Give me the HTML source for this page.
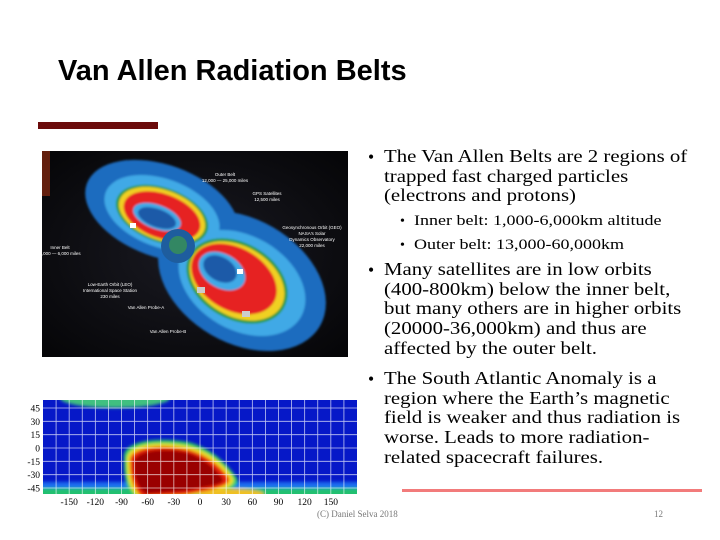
<!DOCTYPE html>
<html><head><meta charset="utf-8"><style>
body{margin:0;width:720px;height:540px;background:#fff;overflow:hidden;position:relative;font-family:"Liberation Serif",serif}
.t{position:absolute;white-space:nowrap;color:#000}
.b{font-size:17.5px;line-height:19.7px;transform:scaleX(1.19);transform-origin:0 0}
.s{font-size:15px;line-height:24px;transform:scaleX(1.2);transform-origin:0 0}
</style></head><body>
<div class="t" style="left:58px;top:55px;font:bold 29px 'Liberation Sans',sans-serif">Van Allen Radiation Belts</div>
<div style="position:absolute;left:38px;top:122px;width:120px;height:7px;background:#6b0b0b"></div>

<svg style="position:absolute;left:42px;top:151px" width="306" height="206" viewBox="0 0 306 206">
<defs><radialGradient id="sp" cx="0.5" cy="0.5" r="0.7"><stop offset="0" stop-color="#1a1a22"/><stop offset="1" stop-color="#050507"/></radialGradient>
<filter id="bl"><feGaussianBlur stdDeviation="1"/></filter></defs>
<rect width="306" height="206" fill="url(#sp)"/>
<rect x="0" y="0" width="8" height="45" fill="#8a2a10" opacity="0.7"/>
<g filter="url(#bl)">
<ellipse cx="120" cy="60" rx="80" ry="46" transform="rotate(20 120 60)" fill="#1c6cbf"/>
<ellipse cx="200" cy="130" rx="90" ry="62" transform="rotate(30 200 130)" fill="#1c6cbf"/>
<ellipse cx="200" cy="132" rx="68" ry="47" transform="rotate(30 200 132)" fill="#3fa9e6"/>
<ellipse cx="120" cy="62" rx="60" ry="34" transform="rotate(20 120 62)" fill="#3fa9e6"/>
<ellipse cx="120" cy="64" rx="48" ry="27" transform="rotate(20 120 64)" fill="#2a9a3a"/>
<ellipse cx="195" cy="130" rx="54" ry="38" transform="rotate(30 195 130)" fill="#2a9a3a"/>
<ellipse cx="120" cy="64" rx="45" ry="25" transform="rotate(20 120 64)" fill="#f0d020"/>
<ellipse cx="195" cy="130" rx="51" ry="35" transform="rotate(30 195 130)" fill="#f0d020"/>
<ellipse cx="120" cy="65" rx="40" ry="22" transform="rotate(20 120 65)" fill="#e62020"/>
<ellipse cx="192" cy="128" rx="46" ry="31" transform="rotate(30 192 128)" fill="#e62020"/>
<ellipse cx="115" cy="66" rx="25" ry="12" transform="rotate(20 115 66)" fill="#3fa9e6"/>
<ellipse cx="180" cy="120" rx="25" ry="17" transform="rotate(30 180 120)" fill="#3fa9e6"/>
<ellipse cx="115" cy="67" rx="20" ry="9" transform="rotate(20 115 67)" fill="#1c5aa8"/>
<ellipse cx="178" cy="118" rx="18" ry="12" transform="rotate(30 178 118)" fill="#1c5aa8"/>
</g>
<circle cx="136" cy="95" r="17" fill="#1e5d9e"/>
<circle cx="136" cy="94" r="9" fill="#3c9a4a" opacity="0.7"/>
<g fill="#fff" font-family="Liberation Sans" font-size="4.5" text-anchor="middle">
<text x="183" y="25">Outer Belt</text><text x="183" y="31">12,000 — 25,000 miles</text>
<text x="225" y="44">GPS Satellites</text><text x="225" y="50">12,500 miles</text>
<text x="270" y="78">Geosynchronous Orbit (GEO)</text><text x="270" y="84">NASA's Solar</text><text x="270" y="90">Dynamics Observatory</text><text x="270" y="96">22,000 miles</text>
<text x="18" y="98">Inner Belt</text><text x="18" y="104">1,000 — 6,000 miles</text>
<text x="68" y="135">Low-Earth Orbit (LEO)</text><text x="68" y="141">International Space Station</text><text x="68" y="147">230 miles</text>
<text x="104" y="158">Van Allen Probe-A</text><text x="126" y="182">Van Allen Probe-B</text>
</g>
<rect x="155" y="136" width="8" height="6" fill="#ccc"/><rect x="200" y="160" width="8" height="6" fill="#ccc"/><rect x="195" y="118" width="6" height="5" fill="#fff"/><rect x="88" y="72" width="6" height="5" fill="#fff"/>
</svg>

<svg style="position:absolute;left:0;top:0" width="720" height="540" id="map">
<defs><filter id="b2" x="-20%" y="-20%" width="140%" height="140%"><feGaussianBlur stdDeviation="1.5"/></filter>
<clipPath id="mc"><rect x="43" y="400" width="314" height="94"/></clipPath></defs>
<g clip-path="url(#mc)" id="mapbody">
<rect x="43" y="400" width="314" height="94" fill="#0618c8"/>
<g filter="url(#b2)">
<rect x="30" y="482" width="340" height="14" fill="#1a6cf0"/>
<rect x="30" y="488" width="340" height="10" fill="#22c070"/>
<ellipse cx="115" cy="398" rx="55" ry="10" fill="#40c080"/>
<path d="M124,458 C122,443 150,436 188,442 C212,448 228,465 237,478 C242,490 215,494 185,498 L136,498 C124,488 124,472 124,458Z" fill="#30d060"/>
<path d="M127,460 C126,446 152,440 187,446 C210,451 225,466 233,478 C237,489 212,492 185,497 L139,498 C127,488 127,472 127,460Z" fill="#f0e020"/>
<path d="M130,461 C129,449 154,443 186,449 C207,454 221,467 229,478 C232,487 210,490 185,495 L142,497 C131,487 130,472 130,461Z" fill="#e82010"/>
<path d="M134,463 C134,452 156,447 185,452 C204,457 216,469 223,479 C225,485 206,487 184,491 L146,494 C135,486 134,473 134,463Z" fill="#9a0606"/>
<ellipse cx="232" cy="494" rx="32" ry="5" fill="#f0c020"/>
</g>
<g id="grid" stroke="#fff" stroke-width="0.8" opacity="0.75"></g>
</g>
<g id="labels" font-family="Liberation Serif" font-size="9.5" fill="#000"></g>
</svg>
<script>
const lonTicks=[-150,-120,-90,-60,-30,0,30,60,90,120,150];
const latTicks=[45,30,15,0,-15,-30,-45];
const lonLines=[-165,-150,-135,-120,-105,-90,-75,-60,-45,-30,-15,0,15,30,45,60,75,90,105,120,135,150,165];
const latLines=[45,30,15,0,-15,-30,-45];
const X=l=>43+(l+180)*314/360, Y=l=>408+(45-l)*80/90;
const ns="http://www.w3.org/2000/svg",g=document.getElementById('grid'),lb=document.getElementById('labels');
lonLines.forEach(l=>{const e=document.createElementNS(ns,'line');


e.setAttribute('x1',X(l));e.setAttribute('x2',X(l));e.setAttribute('y1',400);e.setAttribute('y2',494);g.appendChild(e);});
latLines.forEach(l=>{const e=document.createElementNS(ns,'line');


e.setAttribute('y1',Y(l));e.setAttribute('y2',Y(l));e.setAttribute('x1',43);e.setAttribute('x2',357);g.appendChild(e);});
lonTicks.forEach(l=>{const t=document.createElementNS(ns,'text');


t.setAttribute('x',X(l));t.setAttribute('y',505);t.setAttribute('text-anchor','middle');t.textContent=l;lb.appendChild(t);});
latTicks.forEach(l=>{const t=document.createElementNS(ns,'text');


t.setAttribute('x',40);t.setAttribute('y',Y(l)+3.5);t.setAttribute('text-anchor','end');t.textContent=l;lb.appendChild(t);});
</script>

<div>
<div class="t" style="left:368px;top:147px;font-size:17.5px">•</div>
<div class="t b" style="left:384px;top:147px">The Van Allen Belts are 2 regions of<br>trapped fast charged particles<br>(electrons and protons)</div>
<div class="t" style="left:400px;top:210px;font-size:14px;line-height:24px">•<br>•</div>
<div class="t s" style="left:414px;top:209px">Inner belt: 1,000-6,000km altitude<br>Outer belt: 13,000-60,000km</div>
<div class="t" style="left:368px;top:260px;font-size:17.5px">•</div>
<div class="t b" style="left:384px;top:260px">Many satellites are in low orbits<br>(400-800km) below the inner belt,<br>but many others are in higher orbits<br>(20000-36,000km) and thus are<br>affected by the outer belt.</div>
<div class="t" style="left:368px;top:369px;font-size:17.5px">•</div>
<div class="t b" style="left:384px;top:369px">The South Atlantic Anomaly is a<br>region where the Earth’s magnetic<br>field is weaker and thus radiation is<br>worse. Leads to more radiation-<br>related spacecraft failures.</div>
</div>
<div style="position:absolute;left:402px;top:489px;width:300px;height:3px;background:#f27b7b"></div>
<div class="t" style="left:317px;top:509px;font-size:9px;color:#777">(C) Daniel Selva 2018</div>
<div class="t" style="left:654px;top:509px;font-size:9px;color:#777">12</div>
</body></html>
